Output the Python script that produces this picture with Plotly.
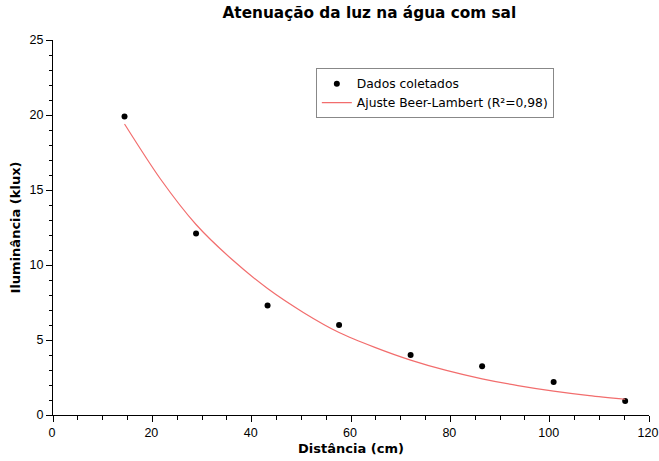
import plotly.graph_objects as go

# Measured data
distancia = [14.4, 28.8, 43.2, 57.6, 72.0, 86.4, 100.8, 115.2]
iluminancia = [19.9, 12.1, 7.3, 6.0, 4.0, 3.25, 2.2, 0.93]

# Fitted curve
fit_x = [14.4, 21.6, 28.8, 36.0, 43.2, 50.4, 57.6, 64.8, 72.0, 79.2, 86.4, 93.6, 100.8, 108.0, 115.2]
fit_y = [19.4, 15.75, 12.7, 10.38, 8.43, 6.84, 5.5, 4.51, 3.66, 2.97, 2.41, 1.96, 1.59, 1.29, 1.05]

title = "Atenuação da luz na água com sal"
x_title = "Distância (cm)"
y_title = "Iluminância (klux)"
name_data = "Dados coletados"
name_fit = "Ajuste Beer-Lambert (R²=0,98)"

font_family = "DejaVu Sans"
tick_family = "Liberation Sans"

fig = go.Figure()
fig.add_trace(go.Scatter(x=distancia, y=iluminancia, mode="markers", name=name_data,
                         marker=dict(color="black", size=6)))
fig.add_trace(go.Scatter(x=fit_x, y=fit_y, mode="lines", name=name_fit,
                         line=dict(color="#f26d6d", width=1.2, shape="spline", smoothing=0.8)))

fig.update_layout(
    width=659, height=461,
    margin=dict(l=53, r=10, t=40, b=46, autoexpand=False),
    paper_bgcolor="white", plot_bgcolor="white",
    font=dict(family=font_family, size=12, color="black"),
    title=dict(text="<b>" + title + "</b>", x=0.5605, xanchor="center", y=0.985, yanchor="top",
               font=dict(size=15.3, family=font_family)),
    showlegend=True,
    legend=dict(x=0.441, y=0.925, xanchor="left", yanchor="top",
                bordercolor="#888888", borderwidth=1, bgcolor="white",
                font=dict(size=12.3), tracegroupgap=0, itemwidth=30),
)

fig.update_xaxes(range=[0, 120], dtick=20, tick0=0, showgrid=False, zeroline=False,
                 showline=True, linecolor="black", linewidth=1, automargin=False,
                 ticks="outside", ticklen=6, tickcolor="black", ticklabeloverflow="allow",
                 ticklabelshift=-1,
                 minor=dict(dtick=5, ticks="outside", ticklen=4, tickcolor="black", showgrid=False),
                 title=dict(text="<b>" + x_title + "</b>", standoff=4, font=dict(size=13)),
                 tickfont=dict(size=12.5, family=tick_family))
fig.update_yaxes(range=[0, 25], dtick=5, tick0=0, showgrid=False, zeroline=False,
                 showline=True, linecolor="black", linewidth=1, automargin=False,
                 ticks="outside", ticklen=6, tickcolor="black", ticklabeloverflow="allow",
                 minor=dict(dtick=1, ticks="outside", ticklen=3, tickcolor="black", showgrid=False),
                 title=dict(text="<b>" + y_title + "</b>", standoff=6, font=dict(size=13)),
                 tickfont=dict(size=12.5, family=tick_family))

fig.write_html("out.html", config={"displayModeBar": False},
               post_script="document.body.style.margin='0';document.body.style.overflow='hidden';")
